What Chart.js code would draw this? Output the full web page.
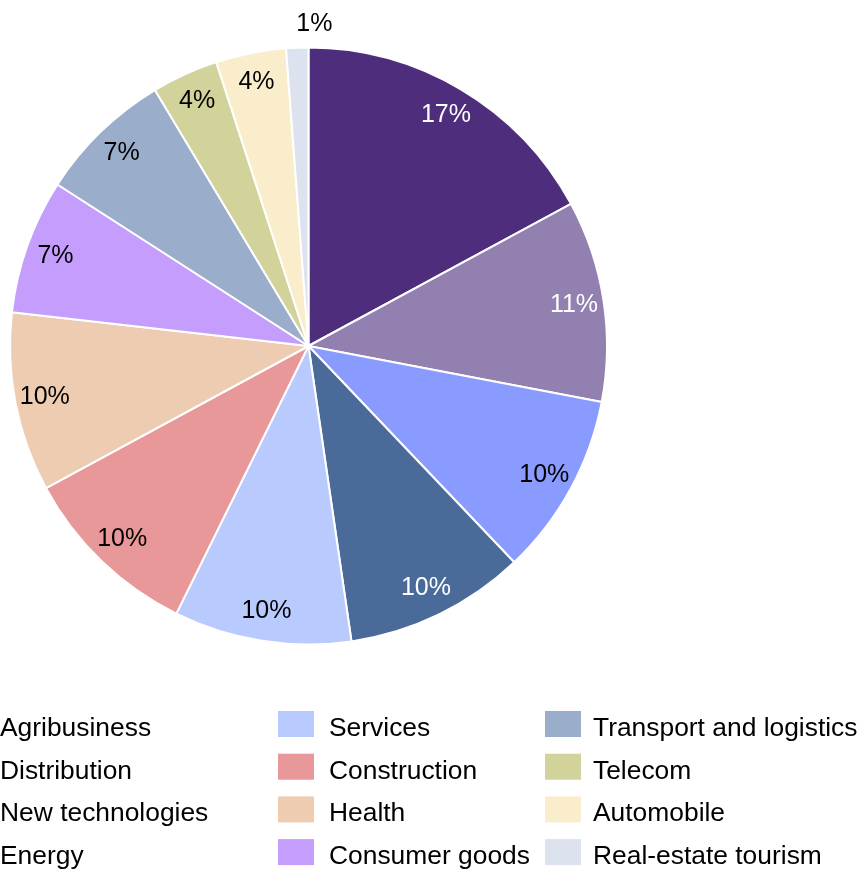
<!DOCTYPE html>
<html>
<head>
<meta charset="utf-8">
<script src="https://cdn.jsdelivr.net/npm/chart.js@4.4.1/dist/chart.umd.min.js"></script>
<style>
  html, body { margin: 0; padding: 0; background: #fff; }
  #wrap { width: 860px; height: 870px; }
</style>
</head>
<body>
<div id="wrap"><canvas id="pie" width="860" height="870"></canvas></div>
<script>
const sectors = [
  'Agribusiness', 'Distribution', 'New technologies', 'Energy',
  'Services', 'Construction', 'Health', 'Consumer goods',
  'Transport and logistics', 'Telecom', 'Automobile', 'Real-estate tourism'
];
const shares = [17.1, 10.9, 9.9, 9.8, 9.6, 9.8, 9.7, 7.3, 7.3, 3.6, 3.8, 1.2];

const sliceColors = [
  '#4e2d7c', '#9180b0', '#8a9bff', '#4a6b9a',
  '#b9caff', '#e89898', '#eeccb2', '#c59dfc',
  '#9aadcb', '#d1d39a', '#faedcc', '#dce3ee'
];
const textColors = [
  '#ffffff', '#ffffff', '#000000', '#ffffff',
  '#000000', '#000000', '#000000', '#000000',
  '#000000', '#000000', '#000000', '#000000'
];

const FONT = '"Liberation Sans", Arial, sans-serif';

// percentage labels on the slices (tiny slices get theirs outside)
const sliceLabels = {
  id: 'sliceLabels',
  afterDatasetsDraw(chart) {
    const ctx = chart.ctx;
    const meta = chart.getDatasetMeta(0);
    const values = chart.data.datasets[0].data;
    const total = values.reduce((a, b) => a + b, 0);
    ctx.save();
    ctx.font = '25px ' + FONT;
    ctx.textBaseline = 'middle';
    meta.data.forEach((arc, i) => {
      const p = arc.getProps(['x', 'y', 'startAngle', 'endAngle', 'outerRadius'], true);
      const pct = values[i] / total * 100;
      const mid = (p.startAngle + p.endAngle) / 2;
      const outside = pct < 2;
      const r = outside ? p.outerRadius * 1.085 : p.outerRadius * 0.9;
      ctx.textAlign = outside ? 'left' : 'center';
      ctx.fillStyle = outside ? '#000000' : textColors[i];
      ctx.fillText(Math.round(pct) + '%', p.x + Math.cos(mid) * r, p.y + Math.sin(mid) * r + (outside ? 2 : 0));
    });
    ctx.restore();
  }
};

// legend in three columns of four rows
const gridLegend = {
  id: 'gridLegend',
  afterDraw(chart) {
    const ctx = chart.ctx;
    const labels = chart.data.labels;
    const colors = chart.data.datasets[0].backgroundColor;
    const textX = [0, 329, 593];
    const swatchX = [-50, 278, 545];
    const baseY = 736;
    const rowGap = 42.7;
    ctx.save();
    ctx.font = '26.4px ' + FONT;
    ctx.textAlign = 'left';
    ctx.textBaseline = 'alphabetic';
    labels.forEach((label, i) => {
      const col = Math.floor(i / 4);
      const row = i % 4;
      const y = baseY + row * rowGap;
      ctx.fillStyle = colors[i];
      ctx.fillRect(swatchX[col], y - 25, 36, 26);
      ctx.fillStyle = '#000000';
      ctx.fillText(label, textX[col], y);
    });
    ctx.restore();
  }
};

new Chart(document.getElementById('pie'), {
  type: 'pie',
  data: {
    labels: sectors,
    datasets: [{
      data: shares,
      backgroundColor: sliceColors,
      borderColor: '#ffffff',
      borderWidth: 2
    }]
  },
  options: {
    responsive: false,
    animation: false,
    layout: {
      padding: { left: 9, top: 46, right: 252, bottom: 224 }
    },
    plugins: {
      legend: { display: false },
      tooltip: { enabled: false }
    }
  },
  plugins: [sliceLabels, gridLegend]
});
</script>
</body>
</html>
